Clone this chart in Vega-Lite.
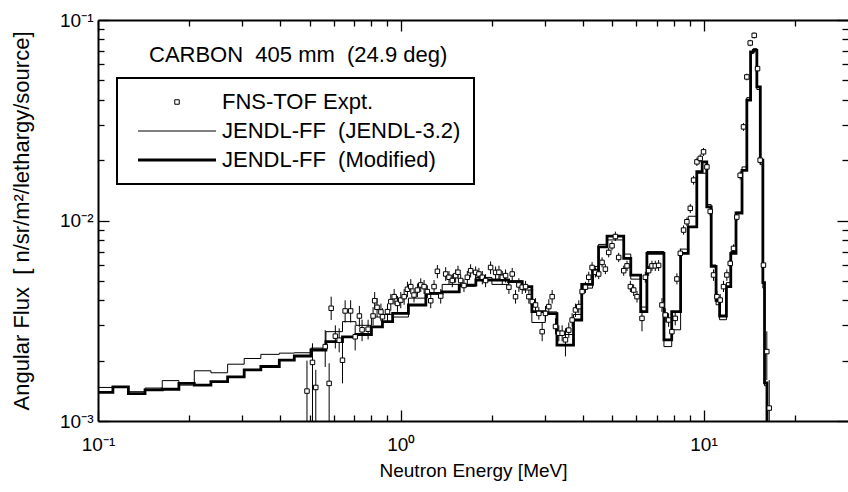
{
  "$schema": "https://vega.github.io/schema/vega-lite/v6.json",
  "width": 750,
  "height": 401,
  "autosize": {"type": "none"},
  "padding": {"left": 98, "top": 20, "right": 0, "bottom": 71},
  "background": "white",
  "title": {"text": "CARBON\u00a0 405 mm\u00a0 (24.9 deg)", "anchor": "start", "frame": "group", "orient": "top", "offset": 0, "dx": 51, "dy": 73, "baseline": "alphabetic", "font": "Liberation Sans", "fontSize": 22, "fontWeight": "normal", "color": "black"},
  "config": {
    "view": {"stroke": null},
    "font": "Liberation Sans",
    "axis": {"grid": false, "domainColor": "black", "domainWidth": 2, "tickColor": "black", "tickWidth": 1.3, "labelFont": "Liberation Sans", "labelFontSize": 19, "labelColor": "black", "titleFont": "Liberation Sans", "titleFontSize": 19, "titleFontWeight": "normal", "titleColor": "black", "labelFlush": false, "labelOverlap": false},
    "legend": {"orient": "none", "legendX": 19, "legendY": 58, "strokeColor": "black", "strokeWidth": 2, "padding": 13, "labelFont": "Liberation Sans", "labelFontSize": 22, "labelColor": "black", "labelLimit": 0, "symbolSize": 100, "symbolOffset": 36, "labelOffset": 34, "rowPadding": 7, "symbolFillColor": "white", "symbolStrokeColor": "black", "title": null}
  },
  "datasets": {
    "model": [
      {"E": 0.1, "flux": 0.00139, "series": "JENDL-FF\u00a0 (Modified)"},
      {"E": 0.112, "flux": 0.00148, "series": "JENDL-FF\u00a0 (Modified)"},
      {"E": 0.126, "flux": 0.00137, "series": "JENDL-FF\u00a0 (Modified)"},
      {"E": 0.143, "flux": 0.00143, "series": "JENDL-FF\u00a0 (Modified)"},
      {"E": 0.163, "flux": 0.00144, "series": "JENDL-FF\u00a0 (Modified)"},
      {"E": 0.185, "flux": 0.00154, "series": "JENDL-FF\u00a0 (Modified)"},
      {"E": 0.208, "flux": 0.00151, "series": "JENDL-FF\u00a0 (Modified)"},
      {"E": 0.236, "flux": 0.00157, "series": "JENDL-FF\u00a0 (Modified)"},
      {"E": 0.268, "flux": 0.00166, "series": "JENDL-FF\u00a0 (Modified)"},
      {"E": 0.304, "flux": 0.0018, "series": "JENDL-FF\u00a0 (Modified)"},
      {"E": 0.345, "flux": 0.00187, "series": "JENDL-FF\u00a0 (Modified)"},
      {"E": 0.397, "flux": 0.00201, "series": "JENDL-FF\u00a0 (Modified)"},
      {"E": 0.445, "flux": 0.00211, "series": "JENDL-FF\u00a0 (Modified)"},
      {"E": 0.505, "flux": 0.00226, "series": "JENDL-FF\u00a0 (Modified)"},
      {"E": 0.566, "flux": 0.00249, "series": "JENDL-FF\u00a0 (Modified)"},
      {"E": 0.642, "flux": 0.00263, "series": "JENDL-FF\u00a0 (Modified)"},
      {"E": 0.711, "flux": 0.0027, "series": "JENDL-FF\u00a0 (Modified)"},
      {"E": 0.8, "flux": 0.00295, "series": "JENDL-FF\u00a0 (Modified)"},
      {"E": 0.87, "flux": 0.00313, "series": "JENDL-FF\u00a0 (Modified)"},
      {"E": 0.94, "flux": 0.00344, "series": "JENDL-FF\u00a0 (Modified)"},
      {"E": 1.06, "flux": 0.00379, "series": "JENDL-FF\u00a0 (Modified)"},
      {"E": 1.21, "flux": 0.00433, "series": "JENDL-FF\u00a0 (Modified)"},
      {"E": 1.37, "flux": 0.00441, "series": "JENDL-FF\u00a0 (Modified)"},
      {"E": 1.56, "flux": 0.00476, "series": "JENDL-FF\u00a0 (Modified)"},
      {"E": 1.77, "flux": 0.00505, "series": "JENDL-FF\u00a0 (Modified)"},
      {"E": 2.0, "flux": 0.00505, "series": "JENDL-FF\u00a0 (Modified)"},
      {"E": 2.27, "flux": 0.00496, "series": "JENDL-FF\u00a0 (Modified)"},
      {"E": 2.52, "flux": 0.00468, "series": "JENDL-FF\u00a0 (Modified)"},
      {"E": 2.71, "flux": 0.00351, "series": "JENDL-FF\u00a0 (Modified)"},
      {"E": 3.0, "flux": 0.00343, "series": "JENDL-FF\u00a0 (Modified)"},
      {"E": 3.28, "flux": 0.00239, "series": "JENDL-FF\u00a0 (Modified)"},
      {"E": 3.72, "flux": 0.00319, "series": "JENDL-FF\u00a0 (Modified)"},
      {"E": 3.96, "flux": 0.0048, "series": "JENDL-FF\u00a0 (Modified)"},
      {"E": 4.3, "flux": 0.00566, "series": "JENDL-FF\u00a0 (Modified)"},
      {"E": 4.5, "flux": 0.00739, "series": "JENDL-FF\u00a0 (Modified)"},
      {"E": 4.8, "flux": 0.00835, "series": "JENDL-FF\u00a0 (Modified)"},
      {"E": 5.45, "flux": 0.00647, "series": "JENDL-FF\u00a0 (Modified)"},
      {"E": 5.75, "flux": 0.00534, "series": "JENDL-FF\u00a0 (Modified)"},
      {"E": 6.2, "flux": 0.00351, "series": "JENDL-FF\u00a0 (Modified)"},
      {"E": 6.5, "flux": 0.00686, "series": "JENDL-FF\u00a0 (Modified)"},
      {"E": 7.4, "flux": 0.00254, "series": "JENDL-FF\u00a0 (Modified)"},
      {"E": 7.85, "flux": 0.00351, "series": "JENDL-FF\u00a0 (Modified)"},
      {"E": 8.4, "flux": 0.00686, "series": "JENDL-FF\u00a0 (Modified)"},
      {"E": 8.9, "flux": 0.0093, "series": "JENDL-FF\u00a0 (Modified)"},
      {"E": 9.5, "flux": 0.0175, "series": "JENDL-FF\u00a0 (Modified)"},
      {"E": 9.9, "flux": 0.0196, "series": "JENDL-FF\u00a0 (Modified)"},
      {"E": 10.25, "flux": 0.0117, "series": "JENDL-FF\u00a0 (Modified)"},
      {"E": 10.6, "flux": 0.0059, "series": "JENDL-FF\u00a0 (Modified)"},
      {"E": 11.0, "flux": 0.004, "series": "JENDL-FF\u00a0 (Modified)"},
      {"E": 11.3, "flux": 0.00334, "series": "JENDL-FF\u00a0 (Modified)"},
      {"E": 11.9, "flux": 0.00468, "series": "JENDL-FF\u00a0 (Modified)"},
      {"E": 12.3, "flux": 0.00686, "series": "JENDL-FF\u00a0 (Modified)"},
      {"E": 12.8, "flux": 0.0109, "series": "JENDL-FF\u00a0 (Modified)"},
      {"E": 13.4, "flux": 0.0178, "series": "JENDL-FF\u00a0 (Modified)"},
      {"E": 13.9, "flux": 0.0398, "series": "JENDL-FF\u00a0 (Modified)"},
      {"E": 14.3, "flux": 0.0693, "series": "JENDL-FF\u00a0 (Modified)"},
      {"E": 14.6, "flux": 0.0706, "series": "JENDL-FF\u00a0 (Modified)"},
      {"E": 15.0, "flux": 0.0464, "series": "JENDL-FF\u00a0 (Modified)"},
      {"E": 15.4, "flux": 0.02, "series": "JENDL-FF\u00a0 (Modified)"},
      {"E": 15.7, "flux": 0.0049, "series": "JENDL-FF\u00a0 (Modified)"},
      {"E": 15.9, "flux": 0.00155, "series": "JENDL-FF\u00a0 (Modified)"},
      {"E": 16.2, "flux": 0.0003, "series": "JENDL-FF\u00a0 (Modified)"},
      {"E": 30, "flux": 0.0003, "series": "JENDL-FF\u00a0 (Modified)"},
      {"E": 0.1, "flux": 0.00147, "series": "JENDL-FF\u00a0 (JENDL-3.2)"},
      {"E": 0.126, "flux": 0.0014, "series": "JENDL-FF\u00a0 (JENDL-3.2)"},
      {"E": 0.143, "flux": 0.00146, "series": "JENDL-FF\u00a0 (JENDL-3.2)"},
      {"E": 0.163, "flux": 0.00159, "series": "JENDL-FF\u00a0 (JENDL-3.2)"},
      {"E": 0.185, "flux": 0.00151, "series": "JENDL-FF\u00a0 (JENDL-3.2)"},
      {"E": 0.208, "flux": 0.00178, "series": "JENDL-FF\u00a0 (JENDL-3.2)"},
      {"E": 0.236, "flux": 0.00174, "series": "JENDL-FF\u00a0 (JENDL-3.2)"},
      {"E": 0.268, "flux": 0.00192, "series": "JENDL-FF\u00a0 (JENDL-3.2)"},
      {"E": 0.304, "flux": 0.00205, "series": "JENDL-FF\u00a0 (JENDL-3.2)"},
      {"E": 0.345, "flux": 0.00215, "series": "JENDL-FF\u00a0 (JENDL-3.2)"},
      {"E": 0.397, "flux": 0.00218, "series": "JENDL-FF\u00a0 (JENDL-3.2)"},
      {"E": 0.445, "flux": 0.00219, "series": "JENDL-FF\u00a0 (JENDL-3.2)"},
      {"E": 0.505, "flux": 0.00231, "series": "JENDL-FF\u00a0 (JENDL-3.2)"},
      {"E": 0.566, "flux": 0.00279, "series": "JENDL-FF\u00a0 (JENDL-3.2)"},
      {"E": 0.642, "flux": 0.00313, "series": "JENDL-FF\u00a0 (JENDL-3.2)"},
      {"E": 0.711, "flux": 0.003, "series": "JENDL-FF\u00a0 (JENDL-3.2)"},
      {"E": 0.8, "flux": 0.0033, "series": "JENDL-FF\u00a0 (JENDL-3.2)"},
      {"E": 0.87, "flux": 0.0034, "series": "JENDL-FF\u00a0 (JENDL-3.2)"},
      {"E": 0.94, "flux": 0.0033, "series": "JENDL-FF\u00a0 (JENDL-3.2)"},
      {"E": 1.06, "flux": 0.0041, "series": "JENDL-FF\u00a0 (JENDL-3.2)"},
      {"E": 1.21, "flux": 0.0043, "series": "JENDL-FF\u00a0 (JENDL-3.2)"},
      {"E": 1.37, "flux": 0.0048, "series": "JENDL-FF\u00a0 (JENDL-3.2)"},
      {"E": 1.56, "flux": 0.0047, "series": "JENDL-FF\u00a0 (JENDL-3.2)"},
      {"E": 1.77, "flux": 0.0052, "series": "JENDL-FF\u00a0 (JENDL-3.2)"},
      {"E": 2.0, "flux": 0.0048, "series": "JENDL-FF\u00a0 (JENDL-3.2)"},
      {"E": 2.27, "flux": 0.005, "series": "JENDL-FF\u00a0 (JENDL-3.2)"},
      {"E": 2.52, "flux": 0.0045, "series": "JENDL-FF\u00a0 (JENDL-3.2)"},
      {"E": 2.71, "flux": 0.0031, "series": "JENDL-FF\u00a0 (JENDL-3.2)"},
      {"E": 3.0, "flux": 0.0035, "series": "JENDL-FF\u00a0 (JENDL-3.2)"},
      {"E": 3.28, "flux": 0.0027, "series": "JENDL-FF\u00a0 (JENDL-3.2)"},
      {"E": 3.72, "flux": 0.0034, "series": "JENDL-FF\u00a0 (JENDL-3.2)"},
      {"E": 3.96, "flux": 0.0046, "series": "JENDL-FF\u00a0 (JENDL-3.2)"},
      {"E": 4.3, "flux": 0.0059, "series": "JENDL-FF\u00a0 (JENDL-3.2)"},
      {"E": 4.5, "flux": 0.0076, "series": "JENDL-FF\u00a0 (JENDL-3.2)"},
      {"E": 4.8, "flux": 0.008, "series": "JENDL-FF\u00a0 (JENDL-3.2)"},
      {"E": 5.45, "flux": 0.0068, "series": "JENDL-FF\u00a0 (JENDL-3.2)"},
      {"E": 5.75, "flux": 0.0051, "series": "JENDL-FF\u00a0 (JENDL-3.2)"},
      {"E": 6.2, "flux": 0.0037, "series": "JENDL-FF\u00a0 (JENDL-3.2)"},
      {"E": 6.5, "flux": 0.007, "series": "JENDL-FF\u00a0 (JENDL-3.2)"},
      {"E": 7.4, "flux": 0.00235, "series": "JENDL-FF\u00a0 (JENDL-3.2)"},
      {"E": 7.85, "flux": 0.00285, "series": "JENDL-FF\u00a0 (JENDL-3.2)"},
      {"E": 8.4, "flux": 0.0072, "series": "JENDL-FF\u00a0 (JENDL-3.2)"},
      {"E": 8.9, "flux": 0.0105, "series": "JENDL-FF\u00a0 (JENDL-3.2)"},
      {"E": 9.5, "flux": 0.0172, "series": "JENDL-FF\u00a0 (JENDL-3.2)"},
      {"E": 10.25, "flux": 0.012, "series": "JENDL-FF\u00a0 (JENDL-3.2)"},
      {"E": 10.6, "flux": 0.006, "series": "JENDL-FF\u00a0 (JENDL-3.2)"},
      {"E": 11.0, "flux": 0.0038, "series": "JENDL-FF\u00a0 (JENDL-3.2)"},
      {"E": 11.3, "flux": 0.0032, "series": "JENDL-FF\u00a0 (JENDL-3.2)"},
      {"E": 11.9, "flux": 0.0049, "series": "JENDL-FF\u00a0 (JENDL-3.2)"},
      {"E": 12.3, "flux": 0.007, "series": "JENDL-FF\u00a0 (JENDL-3.2)"},
      {"E": 12.8, "flux": 0.011, "series": "JENDL-FF\u00a0 (JENDL-3.2)"},
      {"E": 13.4, "flux": 0.0185, "series": "JENDL-FF\u00a0 (JENDL-3.2)"},
      {"E": 13.9, "flux": 0.041, "series": "JENDL-FF\u00a0 (JENDL-3.2)"},
      {"E": 14.3, "flux": 0.068, "series": "JENDL-FF\u00a0 (JENDL-3.2)"},
      {"E": 14.6, "flux": 0.072, "series": "JENDL-FF\u00a0 (JENDL-3.2)"},
      {"E": 15.0, "flux": 0.045, "series": "JENDL-FF\u00a0 (JENDL-3.2)"},
      {"E": 15.4, "flux": 0.019, "series": "JENDL-FF\u00a0 (JENDL-3.2)"},
      {"E": 15.7, "flux": 0.0046, "series": "JENDL-FF\u00a0 (JENDL-3.2)"},
      {"E": 15.9, "flux": 0.0015, "series": "JENDL-FF\u00a0 (JENDL-3.2)"},
      {"E": 16.2, "flux": 0.0003, "series": "JENDL-FF\u00a0 (JENDL-3.2)"},
      {"E": 30, "flux": 0.0003, "series": "JENDL-FF\u00a0 (JENDL-3.2)"}
    ],
    "expt": [
      {"E": 0.49, "flux": 0.00141, "lo": 0.0003, "hi": 0.002},
      {"E": 0.511, "flux": 0.00196, "lo": 0.0003, "hi": 0.00244},
      {"E": 0.524, "flux": 0.00147, "lo": 0.0003, "hi": 0.0018},
      {"E": 0.563, "flux": 0.00235, "lo": 0.00186, "hi": 0.00284},
      {"E": 0.58, "flux": 0.00154, "lo": 0.0003, "hi": 0.00194},
      {"E": 0.589, "flux": 0.00365, "lo": 0.00319, "hi": 0.00417},
      {"E": 0.608, "flux": 0.00265, "lo": 0.0023, "hi": 0.003},
      {"E": 0.626, "flux": 0.00253, "lo": 0.0022, "hi": 0.0029},
      {"E": 0.642, "flux": 0.00201, "lo": 0.00154, "hi": 0.00253},
      {"E": 0.655, "flux": 0.00354, "lo": 0.0031, "hi": 0.004},
      {"E": 0.683, "flux": 0.00354, "lo": 0.0031, "hi": 0.004},
      {"E": 0.707, "flux": 0.00263, "lo": 0.00225, "hi": 0.003},
      {"E": 0.73, "flux": 0.00334, "lo": 0.00295, "hi": 0.00375},
      {"E": 0.745, "flux": 0.00285, "lo": 0.0025, "hi": 0.0032},
      {"E": 0.78, "flux": 0.00287, "lo": 0.00255, "hi": 0.0032},
      {"E": 0.81, "flux": 0.00334, "lo": 0.003, "hi": 0.0037},
      {"E": 0.82, "flux": 0.00398, "lo": 0.0036, "hi": 0.0044},
      {"E": 0.835, "flux": 0.00369, "lo": 0.0033, "hi": 0.0041},
      {"E": 0.86, "flux": 0.0035, "lo": 0.00315, "hi": 0.00385},
      {"E": 0.87, "flux": 0.00331, "lo": 0.00295, "hi": 0.00365},
      {"E": 0.904, "flux": 0.00351, "lo": 0.00315, "hi": 0.00385},
      {"E": 0.927, "flux": 0.00394, "lo": 0.00355, "hi": 0.0043},
      {"E": 0.951, "flux": 0.00417, "lo": 0.0038, "hi": 0.00455},
      {"E": 0.975, "flux": 0.00386, "lo": 0.0035, "hi": 0.0042},
      {"E": 1.0, "flux": 0.00401, "lo": 0.00365, "hi": 0.0044},
      {"E": 1.026, "flux": 0.00417, "lo": 0.0038, "hi": 0.00455},
      {"E": 1.052, "flux": 0.00454, "lo": 0.00415, "hi": 0.00495},
      {"E": 1.079, "flux": 0.00468, "lo": 0.0043, "hi": 0.0051},
      {"E": 1.106, "flux": 0.00425, "lo": 0.0039, "hi": 0.0046},
      {"E": 1.135, "flux": 0.0045, "lo": 0.00415, "hi": 0.00485},
      {"E": 1.164, "flux": 0.00477, "lo": 0.0044, "hi": 0.00515},
      {"E": 1.194, "flux": 0.00468, "lo": 0.0043, "hi": 0.00505},
      {"E": 1.224, "flux": 0.00442, "lo": 0.0041, "hi": 0.00475},
      {"E": 1.256, "flux": 0.00398, "lo": 0.00365, "hi": 0.0043},
      {"E": 1.288, "flux": 0.00468, "lo": 0.0043, "hi": 0.00505},
      {"E": 1.321, "flux": 0.00558, "lo": 0.00515, "hi": 0.006},
      {"E": 1.355, "flux": 0.0042, "lo": 0.00385, "hi": 0.00455},
      {"E": 1.407, "flux": 0.00541, "lo": 0.005, "hi": 0.00585},
      {"E": 1.443, "flux": 0.00521, "lo": 0.0048, "hi": 0.0056},
      {"E": 1.48, "flux": 0.00502, "lo": 0.00465, "hi": 0.0054},
      {"E": 1.518, "flux": 0.00531, "lo": 0.0049, "hi": 0.0057},
      {"E": 1.545, "flux": 0.00552, "lo": 0.0051, "hi": 0.00595},
      {"E": 1.577, "flux": 0.00502, "lo": 0.00465, "hi": 0.0054},
      {"E": 1.617, "flux": 0.00474, "lo": 0.0044, "hi": 0.0051},
      {"E": 1.659, "flux": 0.00521, "lo": 0.0048, "hi": 0.0056},
      {"E": 1.701, "flux": 0.00562, "lo": 0.0052, "hi": 0.00605},
      {"E": 1.767, "flux": 0.00551, "lo": 0.0051, "hi": 0.0059},
      {"E": 1.812, "flux": 0.00541, "lo": 0.005, "hi": 0.0058},
      {"E": 1.859, "flux": 0.00521, "lo": 0.0048, "hi": 0.0056},
      {"E": 1.906, "flux": 0.00502, "lo": 0.00465, "hi": 0.0054},
      {"E": 1.98, "flux": 0.00583, "lo": 0.0054, "hi": 0.00625},
      {"E": 2.057, "flux": 0.00551, "lo": 0.0051, "hi": 0.0059},
      {"E": 2.11, "flux": 0.00552, "lo": 0.0051, "hi": 0.00595},
      {"E": 2.164, "flux": 0.00521, "lo": 0.0048, "hi": 0.0056},
      {"E": 2.219, "flux": 0.00531, "lo": 0.0049, "hi": 0.0057},
      {"E": 2.276, "flux": 0.00465, "lo": 0.0043, "hi": 0.005},
      {"E": 2.334, "flux": 0.00541, "lo": 0.005, "hi": 0.0058},
      {"E": 2.394, "flux": 0.00417, "lo": 0.00385, "hi": 0.0045},
      {"E": 2.455, "flux": 0.00477, "lo": 0.0044, "hi": 0.00515},
      {"E": 2.518, "flux": 0.00465, "lo": 0.0043, "hi": 0.005},
      {"E": 2.583, "flux": 0.00468, "lo": 0.00435, "hi": 0.005},
      {"E": 2.649, "flux": 0.00417, "lo": 0.00385, "hi": 0.0045},
      {"E": 2.718, "flux": 0.00394, "lo": 0.00365, "hi": 0.00425},
      {"E": 2.787, "flux": 0.00379, "lo": 0.0035, "hi": 0.0041},
      {"E": 2.858, "flux": 0.00344, "lo": 0.0032, "hi": 0.0037},
      {"E": 2.931, "flux": 0.00279, "lo": 0.0025, "hi": 0.0031},
      {"E": 3.006, "flux": 0.00344, "lo": 0.00315, "hi": 0.00375},
      {"E": 3.083, "flux": 0.00372, "lo": 0.0034, "hi": 0.00405},
      {"E": 3.162, "flux": 0.00417, "lo": 0.00385, "hi": 0.0045},
      {"E": 3.243, "flux": 0.00296, "lo": 0.0027, "hi": 0.00325},
      {"E": 3.327, "flux": 0.00274, "lo": 0.0025, "hi": 0.003},
      {"E": 3.412, "flux": 0.00274, "lo": 0.0025, "hi": 0.003},
      {"E": 3.499, "flux": 0.00254, "lo": 0.0021, "hi": 0.0029},
      {"E": 3.589, "flux": 0.00284, "lo": 0.0026, "hi": 0.0031},
      {"E": 3.681, "flux": 0.00319, "lo": 0.00295, "hi": 0.00345},
      {"E": 3.775, "flux": 0.00358, "lo": 0.0033, "hi": 0.00385},
      {"E": 3.872, "flux": 0.00372, "lo": 0.00345, "hi": 0.004},
      {"E": 3.971, "flux": 0.00442, "lo": 0.00415, "hi": 0.0047},
      {"E": 4.073, "flux": 0.00465, "lo": 0.00435, "hi": 0.00495},
      {"E": 4.177, "flux": 0.00521, "lo": 0.0049, "hi": 0.00555},
      {"E": 4.284, "flux": 0.00583, "lo": 0.0055, "hi": 0.0062},
      {"E": 4.394, "flux": 0.00551, "lo": 0.0052, "hi": 0.00585},
      {"E": 4.506, "flux": 0.00541, "lo": 0.0051, "hi": 0.00575},
      {"E": 4.622, "flux": 0.00618, "lo": 0.00585, "hi": 0.00655},
      {"E": 4.74, "flux": 0.00572, "lo": 0.0054, "hi": 0.00605},
      {"E": 4.862, "flux": 0.00693, "lo": 0.00655, "hi": 0.0073},
      {"E": 4.986, "flux": 0.00748, "lo": 0.0071, "hi": 0.0079},
      {"E": 5.114, "flux": 0.00832, "lo": 0.0079, "hi": 0.0088},
      {"E": 5.245, "flux": 0.00654, "lo": 0.0062, "hi": 0.0069},
      {"E": 5.449, "flux": 0.00562, "lo": 0.0053, "hi": 0.00595},
      {"E": 5.588, "flux": 0.00594, "lo": 0.0056, "hi": 0.0063},
      {"E": 5.732, "flux": 0.00468, "lo": 0.0044, "hi": 0.005},
      {"E": 5.878, "flux": 0.0045, "lo": 0.0042, "hi": 0.0048},
      {"E": 6.029, "flux": 0.00417, "lo": 0.0039, "hi": 0.00445},
      {"E": 6.262, "flux": 0.00325, "lo": 0.0028, "hi": 0.0036},
      {"E": 6.423, "flux": 0.00521, "lo": 0.0049, "hi": 0.00555},
      {"E": 6.587, "flux": 0.00562, "lo": 0.0053, "hi": 0.00595},
      {"E": 6.755, "flux": 0.00594, "lo": 0.0056, "hi": 0.0063},
      {"E": 6.928, "flux": 0.00594, "lo": 0.0056, "hi": 0.0063},
      {"E": 7.106, "flux": 0.00597, "lo": 0.0056, "hi": 0.00635},
      {"E": 7.288, "flux": 0.00379, "lo": 0.0035, "hi": 0.0041},
      {"E": 7.474, "flux": 0.00338, "lo": 0.0031, "hi": 0.00365},
      {"E": 7.666, "flux": 0.00319, "lo": 0.00295, "hi": 0.00345},
      {"E": 7.862, "flux": 0.00279, "lo": 0.00255, "hi": 0.00305},
      {"E": 8.063, "flux": 0.00325, "lo": 0.003, "hi": 0.0035},
      {"E": 8.166, "flux": 0.00511, "lo": 0.0048, "hi": 0.00545},
      {"E": 8.38, "flux": 0.00686, "lo": 0.0065, "hi": 0.00725},
      {"E": 8.59, "flux": 0.00896, "lo": 0.0085, "hi": 0.00945},
      {"E": 8.81, "flux": 0.00986, "lo": 0.0094, "hi": 0.01035},
      {"E": 9.04, "flux": 0.0115, "lo": 0.0109, "hi": 0.0121},
      {"E": 9.27, "flux": 0.0159, "lo": 0.0151, "hi": 0.0167},
      {"E": 9.51, "flux": 0.0196, "lo": 0.0187, "hi": 0.0206},
      {"E": 9.75, "flux": 0.0204, "lo": 0.0195, "hi": 0.0214},
      {"E": 10.0, "flux": 0.022, "lo": 0.021, "hi": 0.023},
      {"E": 10.26, "flux": 0.0185, "lo": 0.0176, "hi": 0.0194},
      {"E": 10.52, "flux": 0.0111, "lo": 0.0105, "hi": 0.0117},
      {"E": 10.79, "flux": 0.00535, "lo": 0.005, "hi": 0.0057},
      {"E": 11.07, "flux": 0.00417, "lo": 0.0039, "hi": 0.00445},
      {"E": 11.35, "flux": 0.00401, "lo": 0.0037, "hi": 0.0043},
      {"E": 11.64, "flux": 0.00468, "lo": 0.0044, "hi": 0.005},
      {"E": 11.94, "flux": 0.00535, "lo": 0.005, "hi": 0.0057},
      {"E": 12.25, "flux": 0.00611, "lo": 0.0058, "hi": 0.00645},
      {"E": 12.56, "flux": 0.00726, "lo": 0.0069, "hi": 0.0076},
      {"E": 12.88, "flux": 0.0104, "lo": 0.0099, "hi": 0.0109},
      {"E": 13.21, "flux": 0.0168, "lo": 0.016, "hi": 0.0176},
      {"E": 13.55, "flux": 0.0293, "lo": 0.028, "hi": 0.0306},
      {"E": 13.9, "flux": 0.052, "lo": 0.05, "hi": 0.054},
      {"E": 14.26, "flux": 0.0768, "lo": 0.074, "hi": 0.0796},
      {"E": 14.7, "flux": 0.0838, "lo": 0.081, "hi": 0.0866},
      {"E": 15.08, "flux": 0.0572, "lo": 0.055, "hi": 0.0594},
      {"E": 15.38, "flux": 0.02, "lo": 0.019, "hi": 0.021},
      {"E": 15.77, "flux": 0.00599, "lo": 0.0055, "hi": 0.0065},
      {"E": 16.18, "flux": 0.00222, "lo": 0.0016, "hi": 0.0028},
      {"E": 16.48, "flux": 0.00116, "lo": 0.0008, "hi": 0.0016}
    ]
  },
  "resolve": {"axis": {"x": "independent", "y": "independent"}},
  "layer": [
    {
      "data": {"name": "model"},
      "mark": {"type": "line", "interpolate": "step-after", "clip": true, "color": "black"},
      "encoding": {
        "x": {"field": "E", "type": "quantitative", "scale": {"type": "log", "domain": [0.1, 30], "nice": false},
          "axis": {"orient": "bottom", "title": "Neutron Energy  [MeV]", "values": [0.1,0.2,0.3,0.4,0.5,0.6,0.7,0.8,0.9,1,2,3,4,5,6,7,8,9,10,20],
            "labelExpr": "datum.value == 0.1 ? '10⁻¹' : datum.value == 1 ? '10⁰' : datum.value == 10 ? '10¹' : ''",
            "tickSize": {"condition": {"test": "datum.value == 0.1 || datum.value == 1 || datum.value == 10", "value": -11}, "value": -6},
            "labelPadding": 25, "titlePadding": 2}},
        "y": {"field": "flux", "type": "quantitative", "scale": {"type": "log", "domain": [0.001, 0.1], "nice": false},
          "axis": {"orient": "left", "title": "Angular Flux\u00a0 [ n/sr/m²/lethargy/source]", "titleFontSize": 22, "values": [0.001,0.002,0.003,0.004,0.005,0.006,0.007,0.008,0.009,0.01,0.02,0.03,0.04,0.05,0.06,0.07,0.08,0.09,0.1],
            "labelExpr": "datum.value == 0.001 ? '10⁻³' : datum.value == 0.01 ? '10⁻²' : datum.value == 0.1 ? '10⁻¹' : ''",
            "tickSize": {"condition": {"test": "datum.value == 0.001 || datum.value == 0.01 || datum.value == 0.1", "value": -11}, "value": -6},
            "labelPadding": 16, "titlePadding": 26}},
        "strokeWidth": {"field": "series", "type": "nominal",
          "scale": {"type": "ordinal", "domain": ["FNS-TOF Expt.", "JENDL-FF\u00a0 (JENDL-3.2)", "JENDL-FF\u00a0 (Modified)"], "range": [1, 1, 2.8]},
          "legend": {"symbolType": {"expr": "datum.value == 'FNS-TOF Expt.' ? 'M-0.45,-0.45H0.45V0.45H-0.45Z' : 'M-7.8,0H7.8'"}}}
      }
    },
    {
      "data": {"name": "expt"},
      "mark": {"type": "rule", "clip": true, "color": "black", "strokeWidth": 1},
      "encoding": {
        "x": {"field": "E", "type": "quantitative", "scale": {"type": "log", "domain": [0.1, 30], "nice": false},
          "axis": {"orient": "top", "title": null, "labels": false, "values": [0.1,0.2,0.3,0.4,0.5,0.6,0.7,0.8,0.9,1,2,3,4,5,6,7,8,9,10,20],
            "tickSize": {"condition": {"test": "datum.value == 0.1 || datum.value == 1 || datum.value == 10", "value": -11}, "value": -6}}},
        "y": {"field": "lo", "type": "quantitative", "scale": {"type": "log", "domain": [0.001, 0.1], "nice": false},
          "axis": {"orient": "right", "title": null, "labels": false, "domain": false, "values": [0.001,0.002,0.003,0.004,0.005,0.006,0.007,0.008,0.009,0.01,0.02,0.03,0.04,0.05,0.06,0.07,0.08,0.09,0.1],
            "tickSize": {"condition": {"test": "datum.value == 0.001 || datum.value == 0.01 || datum.value == 0.1", "value": -11}, "value": -6}}},
        "y2": {"field": "hi"}
      }
    },
    {
      "data": {"name": "expt"},
      "mark": {"type": "point", "shape": "square", "size": 20, "clip": true, "filled": false, "fill": "white", "fillOpacity": 1, "stroke": "black", "strokeWidth": 1, "opacity": 1},
      "encoding": {
        "x": {"field": "E", "type": "quantitative", "scale": {"type": "log", "domain": [0.1, 30], "nice": false}, "axis": null},
        "y": {"field": "flux", "type": "quantitative", "scale": {"type": "log", "domain": [0.001, 0.1], "nice": false}, "axis": null}
      }
    }
  ]
}
